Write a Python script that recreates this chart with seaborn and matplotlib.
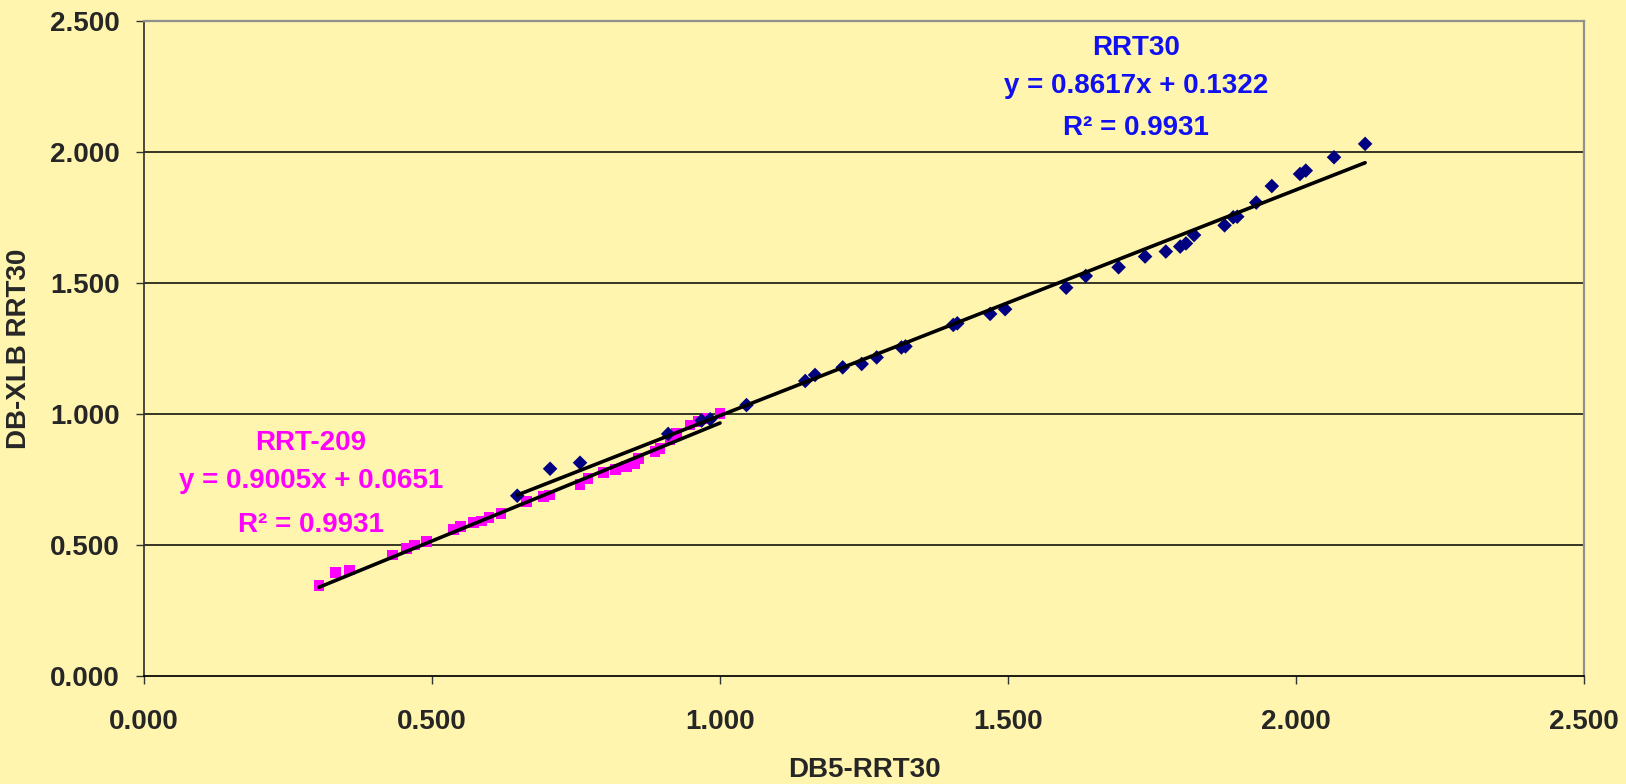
import numpy as np
import pandas as pd
import matplotlib
matplotlib.use("Agg")
import matplotlib.pyplot as plt
import seaborn as sns

# RRT-209 points (pink squares)
rrt209_x = [0.304, 0.332, 0.357, 0.431, 0.456, 0.470, 0.491, 0.537, 0.549, 0.572,
            0.586, 0.599, 0.620, 0.664, 0.693, 0.704, 0.757, 0.771, 0.798, 0.818,
            0.838, 0.852, 0.858, 0.887, 0.896, 0.913, 0.925, 0.948, 0.962, 0.977, 1.000]
rrt209_y = [0.345, 0.396, 0.405, 0.462, 0.487, 0.500, 0.513, 0.560, 0.570, 0.585,
            0.592, 0.604, 0.621, 0.665, 0.684, 0.691, 0.732, 0.755, 0.776, 0.789,
            0.801, 0.812, 0.831, 0.856, 0.869, 0.901, 0.926, 0.958, 0.970, 0.983, 1.003]

# RRT30 points (navy diamonds)
rrt30_x = [0.648, 0.705, 0.757, 0.910, 0.968, 0.983, 1.046, 1.148, 1.165, 1.213,
           1.246, 1.272, 1.315, 1.322, 1.405, 1.412, 1.469, 1.495, 1.601, 1.635,
           1.692, 1.738, 1.774, 1.799, 1.809, 1.823, 1.876, 1.891, 1.898, 1.931,
           1.958, 2.007, 2.017, 2.066, 2.120]
rrt30_y = [0.688, 0.791, 0.814, 0.924, 0.975, 0.980, 1.034, 1.126, 1.149, 1.178,
           1.191, 1.216, 1.254, 1.258, 1.340, 1.346, 1.382, 1.400, 1.482, 1.527,
           1.560, 1.601, 1.620, 1.639, 1.651, 1.683, 1.720, 1.751, 1.753, 1.807,
           1.870, 1.916, 1.929, 1.980, 2.031]

# trendline coefficients as printed on the chart
fit_rrt30 = (0.8617, 0.1322)
fit_rrt209 = (0.9005, 0.0651)
r2_rrt30 = 0.9931
r2_rrt209 = 0.9931

ticks = [0.0, 0.5, 1.0, 1.5, 2.0, 2.5]

bg = "#FFF5AE"
sns.set_theme(style="white")
plt.rcParams['font.family'] = ['Liberation Sans', 'DejaVu Sans']
plt.rcParams['font.weight'] = 'bold'

fig, ax = plt.subplots(figsize=(16.26, 7.84), dpi=100)
fig.patch.set_facecolor(bg)
ax.set_facecolor(bg)
fig.subplots_adjust(left=144/1626, right=1584/1626, bottom=1-676/784, top=1-21/784)

for yv in ticks[1:-1]:
    ax.axhline(yv, color="black", lw=1.1, zorder=1)

df209 = pd.DataFrame({"x": rrt209_x, "y": rrt209_y})
df30 = pd.DataFrame({"x": rrt30_x, "y": rrt30_y})

sns.scatterplot(data=df209, x="x", y="y", ax=ax, marker="s", s=60, color="#FF00FF",
                edgecolor="none", zorder=3)
sns.scatterplot(data=df30, x="x", y="y", ax=ax, marker="D", s=55, color="#000080",
                edgecolor="none", zorder=4)

# linear trendlines over each data range
for d, (m, b) in [(df209, fit_rrt209), (df30, fit_rrt30)]:
    xs = np.array([d["x"].min(), d["x"].max()])
    sns.lineplot(x=xs, y=m * xs + b, ax=ax, color="black", lw=2.6, zorder=5)

ax.set_xlim(0, 2.5)
ax.set_ylim(0, 2.5)
ax.set_xticks(ticks)
ax.set_yticks(ticks)
ax.set_xticklabels([f"{t:.3f}" for t in ticks], fontsize=20, fontweight="bold")
ax.set_yticklabels([f"{t:.3f}" for t in ticks], fontsize=20, fontweight="bold")
ax.tick_params(axis="both", direction="out", length=5.5, width=1, color="#333333",
               left=True, bottom=True)
ax.tick_params(axis="y", pad=12)
ax.tick_params(axis="x", pad=18)

for side in ["top", "right"]:
    ax.spines[side].set_color("#909090")
    ax.spines[side].set_linewidth(1.6)
ax.spines["left"].set_color("#333333")
ax.spines["bottom"].set_color("black")

ax.set_xlabel("DB5-RRT30", fontsize=20, fontweight="bold", labelpad=16)
ax.set_ylabel("DB-XLB RRT30", fontsize=20, fontweight="bold", labelpad=13)

blue = "#1010F0"
bx = 1.722
ax.text(bx, 2.370, "RRT30", color=blue, fontsize=20, fontweight="bold", ha="center", va="baseline")
ax.text(bx, 2.226, f"y = {fit_rrt30[0]}x + {fit_rrt30[1]}", color=blue, fontsize=20,
        fontweight="bold", ha="center", va="baseline")
ax.text(bx, 2.065, f"R\u00b2 = {r2_rrt30}", color=blue, fontsize=20, fontweight="bold",
        ha="center", va="baseline")

pink = "#FF00FF"
px = 0.290
ax.text(px, 0.863, "RRT-209", color=pink, fontsize=20, fontweight="bold", ha="center", va="baseline")
ax.text(px, 0.718, f"y = {fit_rrt209[0]}x + {fit_rrt209[1]}", color=pink, fontsize=20,
        fontweight="bold", ha="center", va="baseline")
ax.text(px, 0.550, f"R\u00b2 = {r2_rrt209}", color=pink, fontsize=20, fontweight="bold",
        ha="center", va="baseline")

fig.savefig("out.png", dpi=100, facecolor=bg)
